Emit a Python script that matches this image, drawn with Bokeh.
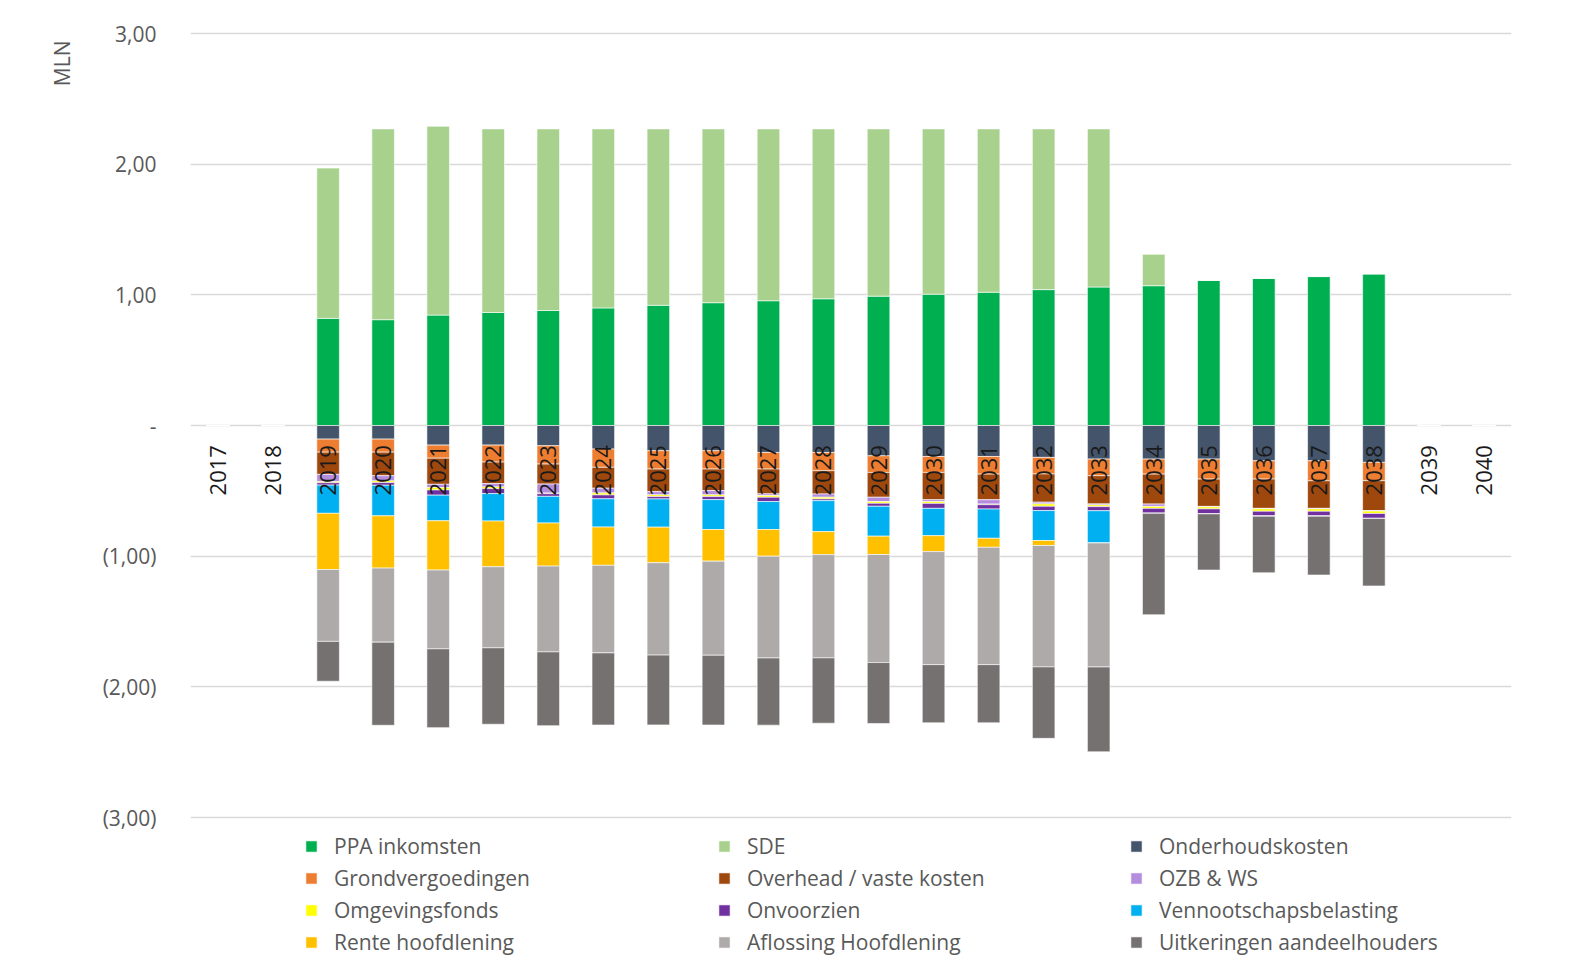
import math
from bokeh.plotting import figure
from bokeh.models import (FactorRange, Range1d, FixedTicker, Legend, LegendItem,
                          Title, ColumnDataSource)
from bokeh.embed import file_html
from bokeh.resources import INLINE
from bokeh.core.properties import value

years = ["2017", "2018", "2019", "2020", "2021", "2022", "2023", "2024", "2025",
         "2026", "2027", "2028", "2029", "2030", "2031", "2032", "2033", "2034",
         "2035", "2036", "2037", "2038", "2039", "2040"]

# positive series (MLN)
ppa = [0, 0, 0.82, 0.81, 0.845, 0.865, 0.88, 0.90, 0.92, 0.94, 0.955, 0.97, 0.99,
       1.005, 1.02, 1.04, 1.06, 1.07, 1.11, 1.125, 1.14, 1.16, 0, 0]
sde = [0, 0, 1.15, 1.46, 1.445, 1.405, 1.39, 1.37, 1.35, 1.33, 1.315, 1.30, 1.28,
       1.265, 1.25, 1.23, 1.21, 0.24, 0, 0, 0, 0, 0, 0]

# negative series (MLN)
onderhoud = [0, 0, -0.104, -0.104, -0.15, -0.15, -0.155, -0.18, -0.193, -0.193, -0.206,
             -0.206, -0.232, -0.237, -0.237, -0.244, -0.257, -0.257, -0.257, -0.27,
             -0.27, -0.282, 0, 0]
grond = [0, 0, -0.10, -0.10, -0.10, -0.13, -0.14, -0.14, -0.14, -0.14, -0.127, -0.14,
         -0.127, -0.122, -0.135, -0.127, -0.127, -0.115, -0.153, -0.14, -0.153, -0.14, 0, 0]
overhead = [0, 0, -0.17, -0.18, -0.20, -0.165, -0.153, -0.16, -0.173, -0.165, -0.19,
            -0.178, -0.19, -0.209, -0.196, -0.216, -0.216, -0.229, -0.209, -0.224,
            -0.211, -0.229, 0, 0]
ozb = [0, 0, -0.056, -0.04, -0.025, -0.025, -0.069, -0.036, -0.025, -0.033, -0.013,
       -0.025, -0.033, -0.015, -0.033, -0.013, -0.008, -0.018, -0.004, -0.004, -0.004,
       -0.004, 0, 0]
omgeving = [0, 0, -0.008, -0.013, -0.018, -0.013, -0.005, -0.015, -0.013, -0.013,
            -0.013, -0.013, -0.013, -0.013, -0.005, -0.018, -0.013, -0.015, -0.015,
            -0.018, -0.018, -0.018, 0, 0]
onvoorzien = [0, 0, -0.018, -0.02, -0.04, -0.038, -0.02, -0.03, -0.018, -0.023, -0.033,
              -0.013, -0.023, -0.038, -0.033, -0.033, -0.031, -0.038, -0.038, -0.038,
              -0.038, -0.038, 0, 0]
vpb = [0, 0, -0.216, -0.234, -0.196, -0.21, -0.204, -0.216, -0.216, -0.229, -0.214,
       -0.237, -0.229, -0.209, -0.224, -0.229, -0.247, 0, 0, 0, 0, 0, 0, 0]
rente = [0, 0, -0.43, -0.40, -0.377, -0.35, -0.33, -0.293, -0.272, -0.242, -0.204,
         -0.176, -0.14, -0.122, -0.069, -0.038, 0, 0, 0, 0, 0, 0, 0, 0]
aflossing = [0, 0, -0.55, -0.567, -0.603, -0.62, -0.656, -0.67, -0.707, -0.72, -0.779,
             -0.79, -0.827, -0.865, -0.898, -0.929, -0.949, 0, 0, 0, 0, 0, 0, 0]
uitkering = [0, 0, -0.305, -0.636, -0.603, -0.585, -0.565, -0.552, -0.534, -0.534,
             -0.514, -0.50, -0.466, -0.445, -0.445, -0.547, -0.649, -0.776, -0.43,
             -0.433, -0.45, -0.517, 0, 0]

pos_labels = ["PPA inkomsten", "SDE"]
neg_labels = ["Onderhoudskosten", "Grondvergoedingen", "Overhead / vaste kosten",
              "OZB & WS", "Omgevingsfonds", "Onvoorzien", "Vennootschapsbelasting",
              "Rente hoofdlening", "Aflossing Hoofdlening", "Uitkeringen aandeelhouders"]
pos_colors = ["#00B050", "#A9D18E"]
neg_colors = ["#44546A", "#ED7D31", "#9E480E", "#B48DDE", "#FFFF00", "#7030A0",
              "#00B0F0", "#FFC000", "#AEAAAA", "#767171"]

y_ticks = [-3, -2, -1, 0, 1, 2, 3]
y_tick_labels = ["(3,00)", "(2,00)", "(1,00)", "-", "1,00", "2,00", "3,00"]

FONT = "Open Sans"
TXT = "#595959"

src = ColumnDataSource(dict(year=years, ppa=ppa, sde=sde, onderhoud=onderhoud,
                            grond=grond, overhead=overhead, ozb=ozb, omgeving=omgeving,
                            onvoorzien=onvoorzien, vpb=vpb, rente=rente,
                            aflossing=aflossing, uitkering=uitkering))

p = figure(x_range=FactorRange(factors=years), y_range=Range1d(-4.117, 3.0995),
           width=1566, height=963, output_backend="svg", toolbar_location=None,
           x_axis_location=None, min_border_left=190, min_border_right=55,
           min_border_top=20, min_border_bottom=0)
p.outline_line_color = None
p.background_fill_color = "white"
p.border_fill_color = "white"

pos_r = p.vbar_stack(["ppa", "sde"], x="year", width=0.41, color=pos_colors,
                     line_color="white", line_width=0.6, source=src)
neg_r = p.vbar_stack(["onderhoud", "grond", "overhead", "ozb", "omgeving", "onvoorzien",
                      "vpb", "rente", "aflossing", "uitkering"], x="year", width=0.41,
                     color=neg_colors, line_color="white", line_width=0.6, source=src)

# category labels drawn at the zero line (rotated)
p.text(x=years, y=[-0.15] * len(years), text=years, angle=math.pi / 2,
       text_align="right", text_baseline="middle", text_font=value(FONT),
       text_font_size="22px", text_color="#1a1a1a")

p.yaxis.ticker = FixedTicker(ticks=y_ticks)
p.yaxis.major_label_overrides = {t: l for t, l in zip(y_ticks, y_tick_labels)}
p.yaxis.axis_line_color = None
p.yaxis.major_tick_line_color = None
p.yaxis.minor_tick_line_color = None
p.yaxis.major_label_standoff = 28
p.yaxis.major_label_text_font = FONT
p.yaxis.major_label_text_font_size = "21px"
p.yaxis.major_label_text_color = TXT
p.ygrid.grid_line_color = "#d9d9d9"
p.ygrid.grid_line_width = 1.3
p.xgrid.visible = False

p.add_layout(Title(text="MLN", align="right", offset=20, standoff=47,
                   text_font=FONT, text_font_size="21px", text_color=TXT,
                   text_font_style="normal"), "left")

all_r = pos_r + neg_r
all_labels = pos_labels + neg_labels
order = [[0, 3, 6, 9], [1, 4, 7, 10], [2, 5, 8, 11]]
xs = [114, 527, 939]
for col, xpos in zip(order, xs):
    items = [LegendItem(label=all_labels[i], renderers=[all_r[i]]) for i in col]
    leg = Legend(items=items, location=(xpos, 5), orientation="vertical",
                 padding=0, margin=0, spacing=0, label_height=32, glyph_height=14,
                 glyph_width=14, label_standoff=16, border_line_color=None,
                 background_fill_alpha=0, label_text_font=FONT,
                 label_text_font_size="21px", label_text_color=TXT)
    p.add_layout(leg)

open("out.html", "w").write(file_html(p, INLINE))
